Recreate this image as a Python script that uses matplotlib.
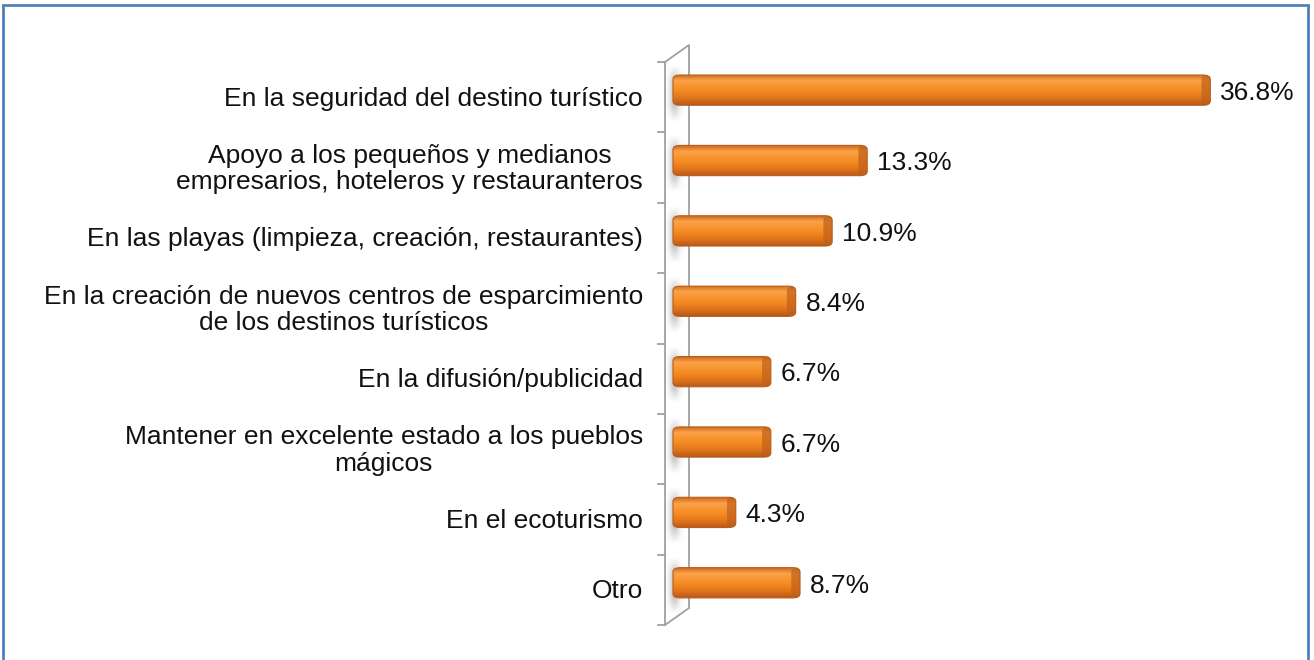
import numpy as np
import matplotlib.pyplot as plt
from matplotlib.patches import Polygon, Rectangle, FancyBboxPatch
from matplotlib.colors import LinearSegmentedColormap

plt.rcParams['font.family'] = ['Liberation Sans', 'DejaVu Sans']

categories = [
    "En la seguridad del destino turístico",
    "Apoyo a los pequeños y medianos\nempresarios, hoteleros y restauranteros",
    "En las playas (limpieza, creación, restaurantes)",
    "En la creación de nuevos centros de esparcimiento\nde los destinos turísticos",
    "En la difusión/publicidad",
    "Mantener en excelente estado a los pueblos\nmágicos",
    "En el ecoturismo",
    "Otro",
]
values = [36.8, 13.3, 10.9, 8.4, 6.7, 6.7, 4.3, 8.7]
value_labels = ["36.8%", "13.3%", "10.9%", "8.4%", "6.7%", "6.7%", "4.3%", "8.7%"]

W, H = 1314, 660
fig = plt.figure(figsize=(W / 100, H / 100), dpi=100)

# blue frame
fig.patches.append(Rectangle((3 / W, -0.05), (1308 - 3) / W, 1.05 - 5 / H,
                             transform=fig.transFigure, fill=False,
                             edgecolor="#4F81BD", linewidth=2))

# axes: left edge at pixel 660, top 62, bottom 625
px = 14.6  # pixels per percent
x0 = 673
ax = fig.add_axes([660 / W, 1 - 625 / H, (1300 - 660) / W, (625 - 62) / H])
ax.set_xlim(-(x0 - 660) / px, (1300 - x0) / px)
n = len(categories)
ax.set_ylim(n - 0.5, -0.5)
ax.axis("off")

# side wall (3D look)
ux = 1 / px
uy = (625 - 62) / n  # pixels per category
wall_dx = 24 * ux
wall_dy = 17 / uy
xl = -(x0 - 665) / px
wall = Polygon([(xl, -0.5), (xl + wall_dx, -0.5 - wall_dy),
                (xl + wall_dx, n - 0.5 - wall_dy), (xl, n - 0.5)],
               closed=True, facecolor="white", edgecolor="none", zorder=1, clip_on=False)
ax.add_patch(wall)
# soft grey shadow behind each bar
gx = np.linspace(0, 1, 40)
gy = np.linspace(0, 1, 60)
hx = np.exp(-((gx - 0.4) / 0.22) ** 2)
hy = np.clip(np.minimum(gy / 0.3, (1 - gy) / 0.3), 0, 1)
shadow = np.outer(hy, hx)
shade = LinearSegmentedColormap.from_list("sh", ["#FFFFFF", "#C4C4C4"])
for i in range(n):
    im = ax.imshow(shadow, cmap=shade, vmin=0, vmax=1, aspect="auto",
                   extent=(xl, xl + wall_dx, i + 0.35, i - 0.45), zorder=1.5)
    im.set_clip_path(wall)
wall_kw = dict(color="#A0A0A0", lw=1.3, zorder=2, clip_on=False)
ax.plot([xl, xl + wall_dx, xl + wall_dx], [-0.5, -0.5 - wall_dy, n - 0.5 - wall_dy], **wall_kw)
ax.plot([xl, xl], [-0.5, n - 0.5], **wall_kw)
ax.plot([xl, xl + wall_dx], [n - 0.5, n - 0.5 - wall_dy], **wall_kw)
for k in range(n + 1):
    ax.plot([xl - 7 * ux, xl], [k - 0.5, k - 0.5], **wall_kw)

# bars with gradient
bar_cmap = LinearSegmentedColormap.from_list(
    "bar", ["#C8661A", "#FBA24A", "#F8952E", "#F28620", "#DC721A", "#B8581A"])
bh = 0.43
off = -0.1
for i, v in enumerate(values):
    yc = i + off
    patch = FancyBboxPatch((0, yc - bh / 2), v, bh,
                           boxstyle="round,pad=0,rounding_size=0.5",
                           mutation_aspect=0.12,
                           facecolor="none", edgecolor="#B85E1A", linewidth=0.8, zorder=4)
    ax.add_patch(patch)
    grad = np.linspace(0, 1, 60).reshape(-1, 1)
    im = ax.imshow(grad, cmap=bar_cmap, aspect="auto",
                   extent=(0, v, yc + bh / 2, yc - bh / 2), zorder=3)
    im.set_clip_path(patch)
    # darker 3D end cap
    cap = FancyBboxPatch((v - 0.6, yc - bh / 2), 0.6, bh,
                         boxstyle="round,pad=0,rounding_size=0.5",
                         mutation_aspect=0.12,
                         facecolor="#C0601A", edgecolor="none", alpha=0.7, zorder=3.5)
    ax.add_patch(cap)
    ax.text(v + 10 * ux, yc + 0.04, value_labels[i], ha="left", va="center",
            fontsize=19, color="#111111", zorder=5)

# category labels
for i, c in enumerate(categories):
    ax.text(xl - 22 * ux, i + 0.02, c, ha="right", va="center", multialignment="center",
            fontsize=19, linespacing=1.12, color="#111111")

fig.savefig("out.png", dpi=100)
